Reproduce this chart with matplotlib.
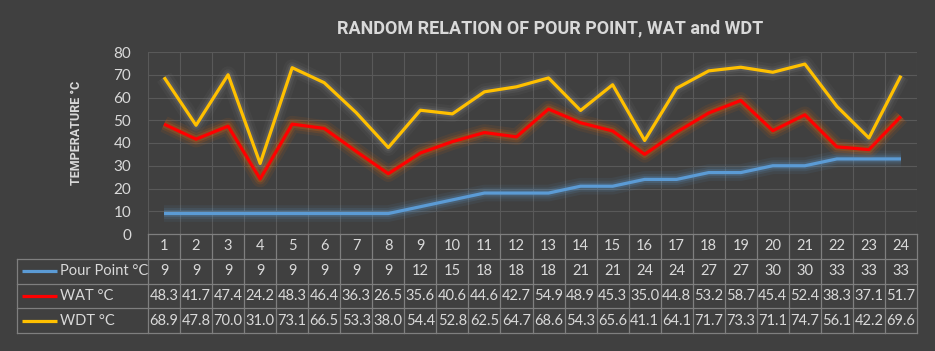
import matplotlib.pyplot as plt
import matplotlib.patheffects as pe
import numpy as np

samples = list(range(1, 25))
pour_point = [9, 9, 9, 9, 9, 9, 9, 9, 12, 15, 18, 18, 18, 21, 21, 24, 24, 27, 27, 30, 30, 33, 33, 33]
wat = [48.3, 41.7, 47.4, 24.2, 48.3, 46.4, 36.3, 26.5, 35.6, 40.6, 44.6, 42.7, 54.9, 48.9,
       45.3, 35.0, 44.8, 53.2, 58.7, 45.4, 52.4, 38.3, 37.1, 51.7]
wdt = [68.9, 47.8, 70.0, 31.0, 73.1, 66.5, 53.3, 38.0, 54.4, 52.8, 62.5, 64.7, 68.6, 54.3,
       65.6, 41.1, 64.1, 71.7, 73.3, 71.1, 74.7, 56.1, 42.2, 69.6]
series_names = ["Pour Point °C", "WAT °C", "WDT °C"]
series_fmt = ["{:d}", "{:.1f}", "{:.1f}"]

BG = "#404040"
GRID = "#595959"
TXT = "#d9d9d9"
TBL = "#7f7f7f"
colors = ["#5b9bd5", "#ff0000", "#ffc000"]
glows = ["#5b9bd5", "#ff6a00", "#8a8a8a"]

plt.rcParams['font.family'] = ['Lato', 'DejaVu Sans']

W, H = 935, 351
fig = plt.figure(figsize=(W / 100, H / 100), dpi=100, facecolor=BG)

# main plot area
x0, x1, ytop, ybot = 148, 917, 52, 234
ax = fig.add_axes([x0 / W, 1 - ybot / H, (x1 - x0) / W, (ybot - ytop) / H])
ax.set_facecolor(BG)
n = len(samples)
x = np.arange(1, n + 1)
ax.set_xlim(0.5, n + 0.5)
ax.set_ylim(0, 80)
ax.set_yticks(range(0, 81, 10))
ax.set_xticks(np.arange(0.5, n + 1, 1))
ax.set_xticklabels([])
ax.tick_params(axis='both', length=0, colors=TXT, labelsize=11)
ax.tick_params(axis='y', pad=12)
ax.grid(True, color=GRID, linewidth=0.8)
ax.set_axisbelow(True)
for s in ax.spines.values():
    s.set_visible(False)

for vals, c, g in zip([pour_point, wat, wdt], colors, glows):
    effects = [pe.Stroke(linewidth=12, foreground=g, alpha=0.08),
               pe.Stroke(linewidth=8, foreground=g, alpha=0.12),
               pe.Stroke(linewidth=5, foreground=g, alpha=0.2),
               pe.Normal()]
    ax.plot(x, vals, color=c, linewidth=2.3, solid_capstyle='butt',
            path_effects=effects)

fig.text(550 / W, 1 - 28 / H, "RANDOM RELATION OF POUR POINT, WAT and WDT",
         ha='center', va='center', color=TXT, fontsize=13, fontweight='bold',
         family='Roboto')
fig.text(77 / W, 1 - 133 / H, "TEMPERATURE °C", rotation=90, ha='center',
         va='center', color=TXT, fontsize=9, fontweight='bold', family='Roboto')

# data table below the plot
tx0, ty0, ty1 = 17, 234, 333
lab_w = (x0 - tx0) / ((x1 - x0) / n)
tax = fig.add_axes([tx0 / W, 1 - ty1 / H, (x1 - tx0) / W, (ty1 - ty0) / H])
tax.set_xlim(0.5 - lab_w, n + 0.5)
tax.set_ylim(4, 0)
tax.axis('off')

lw = 0.9
# horizontal lines
tax.plot([0.5, n + 0.5], [0, 0], color=TBL, lw=lw, clip_on=False)
for r in range(1, 5):
    tax.plot([0.5 - lab_w, n + 0.5], [r, r], color=TBL, lw=lw, clip_on=False)
# vertical lines
for k in range(n + 1):
    tax.plot([0.5 + k, 0.5 + k], [0, 4], color=TBL, lw=lw, clip_on=False)
tax.plot([0.5 - lab_w] * 2, [1, 4], color=TBL, lw=lw, clip_on=False)

for i, s in enumerate(samples):
    tax.text(i + 1, 0.5, str(s), ha='center', va='center', color=TXT, fontsize=10.5)

for r, (name, vals, c, fmt) in enumerate(zip(series_names, [pour_point, wat, wdt], colors, series_fmt)):
    yy = r + 1.5
    tax.plot([0.5 - lab_w + 0.16, 0.5 - lab_w + 1.25], [yy, yy], color=c, lw=2.3,
             solid_capstyle='butt', clip_on=False)
    tax.text(0.5 - lab_w + 1.34, yy, name, ha='left', va='center', color=TXT, fontsize=10.5)
    for i, v in enumerate(vals):
        tax.text(i + 1, yy, fmt.format(v), ha='center', va='center', color=TXT, fontsize=10.5)

fig.savefig("out.png", dpi=100, facecolor=BG)
